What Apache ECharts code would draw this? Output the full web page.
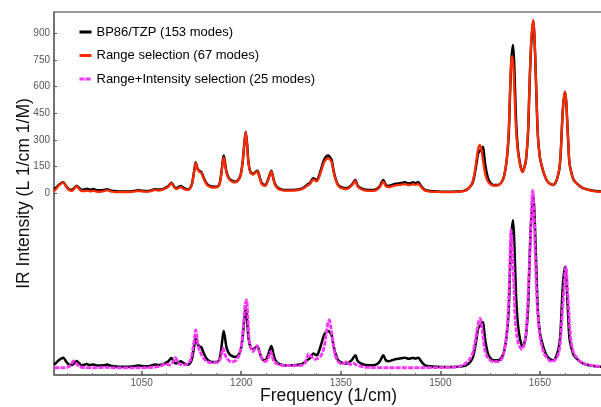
<!DOCTYPE html>
<html><head><meta charset="utf-8">
<script src="https://cdn.jsdelivr.net/npm/echarts@6/dist/echarts.min.js"></script>
<style>html,body{margin:0;padding:0;background:#fff}#c{width:601px;height:407px}</style>
</head><body><div id="c"></div>
<script>
const seriesNames = ['BP86/TZP (153 modes)', 'Range selection (67 modes)', 'Range+Intensity selection (25 modes)'];

const blackFreq = [918,921,926,932,936,940,945,949,952,956,960,964,967,972,977,982,987,993,998,1003,1008,1015,1025,1035,1041,1045,1050,1058,1064,1070,1075,1080,1085,1090,1095,1099,1102,1106,1109,1112,1115,1119,1123,1126,1129,1131.5,1134,1137,1140,1143,1146,1150,1155,1161,1166,1168,1170,1172,1173.6,1175.5,1177.5,1180,1183,1187,1191,1195,1199,1202,1204.5,1206.8,1209,1211,1214,1218,1222,1224.5,1227,1231,1236,1240,1243,1245.4,1248,1251,1256,1262,1268,1278,1288,1294,1299,1304,1308.6,1313.7,1317,1320,1324.7,1328,1331.2,1334,1336.3,1339,1341.3,1345,1349,1355,1359,1363,1367,1371.9,1375,1378,1384,1392,1399,1405,1409,1414,1418,1422,1427,1433,1439,1444,1447,1451,1455,1459,1462,1466.8,1470,1473,1477,1484,1495,1510,1525,1535,1541,1545,1549,1552,1555,1557,1560,1564,1566,1568,1572,1576,1580,1587,1592,1596,1600,1603,1605,1607,1609.5,1611.5,1614,1616.5,1619,1622,1624,1627,1629,1632,1634,1636,1638,1640,1641.5,1643,1645,1647,1650,1653,1656,1660,1665,1670,1673,1676,1679,1681,1684.5,1687.6,1689.5,1691,1693,1694.5,1698,1701,1708,1715,1728,1745];
const blackInt = [22,30,48,60,40,22,18,30,41,28,17,20,24,18,22,16,15,17,21,14,11,9,9,10,13,16,13,11,14,21,19,20,28,38,58,35,27,34,40,32,26,20,28,55,120,173,140,124,118,90,66,45,36,35,42,62,110,175,211,175,125,95,77,68,64,72,100,170,270,346,270,170,118,108,120,126,100,55,45,70,105,126,90,50,27,19,17,17,21,30,45,58,83,73,95,130,186,205,211,200,186,130,92,52,36,28,27,35,48,73,45,32,21,17,17,25,40,73,45,40,45,52,55,58,60,54,55,60,55,60,45,30,17,11,8,7,8,12,22,36,62,111,180,225,240,261,210,149,80,55,45,45,60,95,186,330,560,751,836,700,412,260,186,135,120,150,186,330,563,780,902,973,900,751,520,318,200,149,110,73,52,45,55,83,130,205,469,572,520,412,260,168,105,73,45,27,14,7];

const redFreq = [918,921,926,932,936,940,945,949,952,956,960,964,967,972,977,982,987,993,998,1003,1008,1015,1025,1035,1041,1045,1050,1058,1064,1070,1075,1080,1085,1090,1095,1099,1102,1106,1109,1112,1115,1119,1123,1126,1129,1131.5,1134,1137,1140,1143,1146,1150,1155,1161,1166,1168,1170,1172,1173.6,1175.5,1177.5,1180,1183,1187,1191,1195,1199,1202,1204.5,1206.8,1209,1211,1214,1218,1222,1224.5,1227,1231,1236,1240,1243,1245.4,1248,1251,1256,1262,1268,1278,1288,1294,1299,1304,1308.6,1313.7,1317,1320,1324.7,1328,1331.2,1334,1336.3,1339,1341.3,1345,1349,1355,1359,1363,1367,1371.9,1375,1378,1384,1392,1399,1405,1409,1414,1418,1422,1427,1433,1439,1444,1447,1451,1455,1459,1462,1466.8,1470,1473,1477,1484,1495,1510,1525,1535,1541,1545,1549,1552,1555,1557,1559.5,1562,1564,1566,1568,1572,1576,1580,1587,1592,1596,1600,1603,1605,1606.8,1608.5,1610.5,1613,1616,1619,1622,1624,1627,1629,1632,1634,1636,1638,1640,1641.5,1643,1645,1647,1650,1653,1656,1660,1665,1670,1673,1676,1679,1681,1684.5,1687.6,1689.5,1691,1693,1694.5,1698,1701,1708,1715,1728,1745];
const redInt = [10,22,45,58,38,18,12,26,38,22,10,10,13,9,12,8,7,10,16,9,6,5,5,6,9,12,9,8,11,17,14,16,24,35,56,32,22,28,34,26,20,16,25,52,118,170,138,120,112,85,60,40,32,31,38,57,104,167,200,166,118,90,72,63,60,68,96,168,268,344,268,166,114,104,116,122,96,50,40,66,100,122,86,46,22,15,13,13,17,26,40,52,75,66,86,118,172,190,196,188,174,122,86,47,31,23,22,30,43,68,40,27,16,12,12,20,34,64,38,33,37,43,46,48,50,45,46,50,46,50,38,25,13,8,6,5,6,10,20,36,68,125,205,250,271,240,190,140,100,62,48,42,43,58,95,190,350,580,740,773,680,430,260,180,130,118,150,190,340,575,790,920,978,905,755,520,318,200,149,110,73,52,45,55,83,130,205,469,572,520,412,260,168,105,73,45,27,12,5];

const magFreq = [918,930,940,944,948,952,957,965,980,997,1010,1040,1060,1073,1080,1085,1090,1093,1097,1101,1104,1107,1111,1115,1120,1124,1127,1129.5,1131.5,1133.5,1135.5,1138,1140.5,1145.5,1153,1163,1166,1169,1171,1173,1175,1178,1182,1185.5,1190,1193,1197,1200.7,1203.5,1206,1208,1210,1212,1215,1218,1221,1224,1226,1228,1232,1236,1240,1242.5,1244.5,1247,1249.5,1256,1265,1280,1290,1296,1299,1301,1303.5,1306,1311,1315,1319,1322,1325,1328,1330.5,1332.8,1335,1336.3,1339,1341.3,1344,1347,1351,1355,1359,1364,1369,1374,1379,1390,1420,1470,1500,1520,1530,1538,1545,1549,1552,1555,1557,1560,1562,1563.6,1567,1572,1579.5,1587,1592,1595,1600,1603.5,1605,1606.5,1608,1609,1611,1612.5,1615,1617.5,1622.5,1627.5,1630,1632.5,1636.6,1639,1640.5,1642.3,1644,1646,1650,1654,1657.5,1667.6,1675,1679,1681,1685,1689,1692.5,1696,1699,1702.5,1715,1745];
const magInt = [3,3,8,25,41,25,8,4,3,5,2,2,4,8,14,24,20,19,35,60,38,24,19,19,28,50,103,170,216,170,122,95,75,47,32,32,40,58,90,113,85,58,42,36,40,47,75,141,250,360,386,290,160,110,94,112,128,110,85,52,37,50,75,94,65,37,22,16,15,17,28,55,81,74,66,51,55,66,85,122,190,255,273,230,198,130,75,50,34,24,28,37,21,28,18,12,5,3,3,4,6,12,28,56,90,141,210,254,282,250,198,103,56,37,37,50,75,198,442,650,781,720,630,450,291,190,141,107,150,250,442,819,1005,950,724,520,348,178,110,75,37,56,100,160,386,574,386,178,110,75,28,8];

const lowerOffset = -990;
const xTickLabels = [1050, 1200, 1350, 1500, 1650];
const xMinorTicks = [937.5, 975, 1012.5, 1087.5, 1125, 1162.5, 1237.5, 1275, 1312.5, 1387.5, 1425, 1462.5, 1537.5, 1575, 1612.5, 1687.5, 1725];
const yTickLabels = [0, 150, 300, 450, 600, 750, 900];

const pair = (fs, vs, off) => fs.map((f, i) => [f, vs[i] + off]);
const FONT = 'Liberation Sans, Arial, sans-serif';

const chart = echarts.init(document.getElementById('c'), null, {renderer: 'canvas'});
chart.setOption({
  animation: false,
  backgroundColor: '#fff',
  grid: {left: 54, right: -2, top: 12, bottom: 32, show: true, borderColor: '#333', borderWidth: 1,
    containLabel: false, outerBoundsMode: 'none'},
  legend: {
    orient: 'vertical', left: 78, top: 25.5, padding: 0, itemWidth: 12, itemHeight: 14, itemGap: 10.5,
    data: seriesNames,
    itemStyle: {opacity: 0},
    lineStyle: {width: 3},
    textStyle: {fontSize: 13, color: '#000', fontFamily: FONT}
  },
  xAxis: [{
    type: 'value', min: 918, max: 1745, gridIndex: 0,
    axisLine: {show: true, onZero: false, lineStyle: {color: '#666', width: 1.5}},
    axisTick: {show: true, inside: true, length: 4, customValues: xTickLabels, lineStyle: {color: '#555', width: 1.5}},
    axisLabel: {customValues: xTickLabels, formatter: v => String(v), fontSize: 10, color: '#555', margin: 3, fontFamily: FONT},
    splitLine: {show: false},
    name: 'Frequency (1/cm)', nameLocation: 'middle', nameGap: 12, nameMoveOverlap: false,
    nameTextStyle: {fontSize: 17.5, color: '#111', fontFamily: FONT}
  }, {
    type: 'value', min: 918, max: 1745, gridIndex: 0, position: 'bottom',
    axisLine: {show: false, onZero: false},
    axisTick: {show: true, inside: true, length: 2, customValues: xMinorTicks, lineStyle: {color: '#777', width: 1}},
    axisLabel: {show: false}, splitLine: {show: false}
  }],
  yAxis: {
    type: 'value', min: -1028, max: 1022,
    axisLine: {show: true, onZero: false, lineStyle: {color: '#666', width: 1.5}},
    axisTick: {show: true, inside: true, length: 3, customValues: yTickLabels, lineStyle: {color: '#555'}},
    axisLabel: {customValues: yTickLabels, formatter: v => String(v), fontSize: 10, color: '#555', margin: 4, fontFamily: FONT},
    splitLine: {show: false},
    name: 'IR Intensity (L 1/cm 1/M)', nameLocation: 'middle', nameGap: 21, nameMoveOverlap: false,
    nameTextStyle: {fontSize: 17.5, color: '#111', fontFamily: FONT}
  },
  series: [
    {name: seriesNames[0], type: 'line', symbol: 'none', smooth: 0.3, data: pair(blackFreq, blackInt, 0),
      lineStyle: {color: '#000', width: 2.5}, itemStyle: {color: '#000'}},
    {name: seriesNames[1], type: 'line', symbol: 'none', smooth: 0.3, data: pair(redFreq, redInt, 0),
      lineStyle: {color: '#ff2a00', width: 2.3}, itemStyle: {color: '#ff2a00'}},
    {name: seriesNames[0], type: 'line', symbol: 'none', smooth: 0.3, data: pair(blackFreq, blackInt, lowerOffset),
      lineStyle: {color: '#000', width: 2.5}, itemStyle: {color: '#000'}},
    {name: seriesNames[2], type: 'line', symbol: 'none', smooth: 0.3, data: pair(magFreq, magInt, lowerOffset),
      lineStyle: {color: '#ff33ff', width: 2.8, type: [5, 1.2]}, itemStyle: {color: '#ff33ff'}}
  ]
});
</script></body></html>
